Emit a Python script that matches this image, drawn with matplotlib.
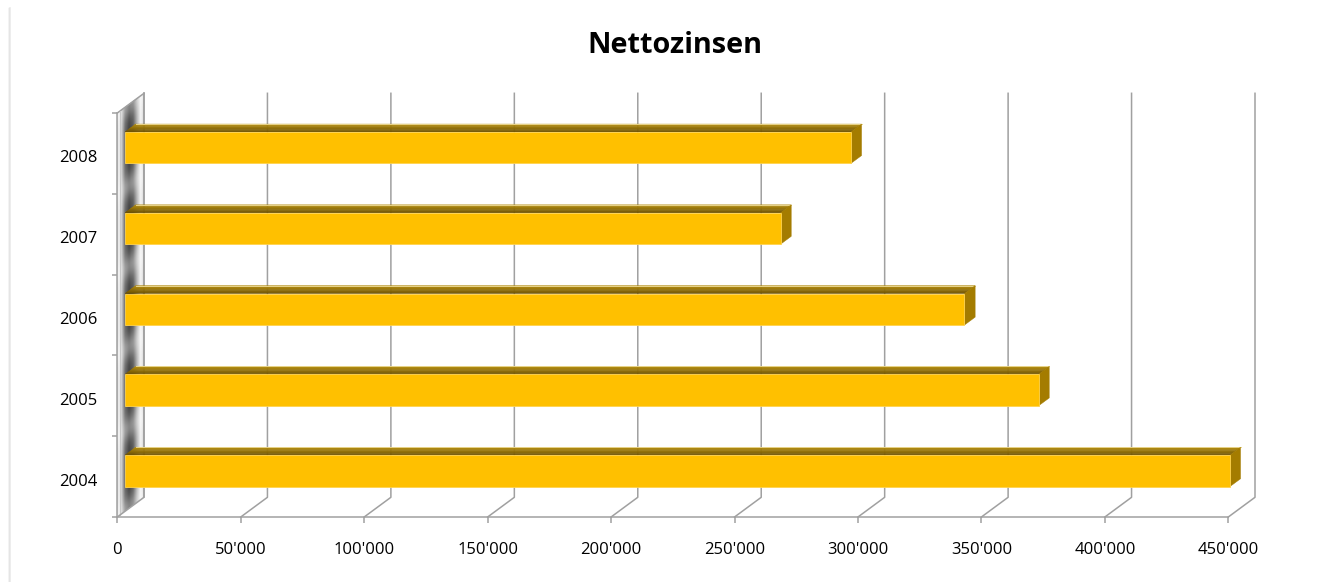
import numpy as np
import matplotlib.pyplot as plt
from matplotlib.patches import Polygon, Rectangle
from matplotlib.lines import Line2D
from matplotlib.ticker import FixedLocator, FuncFormatter
from matplotlib.transforms import Affine2D, ScaledTranslation

plt.rcParams['font.family'] = ['Open Sans', 'DejaVu Sans']

# Nettozinsen pro Jahr
years = ['2004', '2005', '2006', '2007', '2008']
values = [447500, 370000, 340000, 265500, 294000]
x_ticks = [0, 50000, 100000, 150000, 200000, 250000, 300000, 350000, 400000, 450000]
title = 'Nettozinsen'

# oblique "3D" depth: one unit of depth shifts a point by DV (value units) and DC (category units)
XMAX = 450000
DV = 10814
DC = 0.2438
D0, D1 = 0.29, 0.69          # front / back depth of the bars
BAR_LO, BAR_HI = 0.305, 0.695

GRID = '#a0a0a0'
FRONT = '#ffc000'
SIDE = '#a47c00'
TOP_FRONT = np.array([0x6a, 0x4f, 0x00]) / 255
TOP_BACK = np.array([0xb4, 0x8c, 0x0c]) / 255


def fmt(v, pos=None):
    return f"{int(v):,}".replace(",", "'")


fig = plt.figure(figsize=(13.31, 5.82), dpi=100)
ax = fig.add_axes([0.08813, 0.11168, 0.83471, 0.69416])

# chart border on the left
fig.add_artist(Line2D([8.5 / 1331] * 2, [0, 1 - 8 / 582], color='#c4c4c4', lw=1.0))
fig.add_artist(Line2D([10 / 1331] * 2, [0, 1 - 8 / 582], color='#ececec', lw=1.2))

fig.text(0.5071, 1 - 53 / 582, title, ha='center', va='baseline',
         fontsize=20.8, fontweight='bold')

# left wall: shaded metallic panel, sheared into depth
nu, nc = 80, 400
u = np.linspace(0, 1, nu)
c = np.linspace(0, len(years), nc)
prof = np.interp(u, [0, 0.06, 0.15, 0.3, 0.45, 0.6, 0.75, 0.88, 1.0],
                 [0.78, 0.95, 0.85, 0.42, 0.26, 0.36, 0.72, 0.96, 0.84])
dist = np.abs(c - np.round(c))
mod = 0.35 * np.exp(-(dist / 0.16) ** 2)
wall = np.clip(prof[None, :] + mod[:, None] * (1 - prof[None, :]), 0, 1)
shear = Affine2D(np.array([[DV, 0, 0], [DC, 1, 0], [0, 0, 1]]))
ax.imshow(wall, cmap='gray', vmin=0, vmax=1, origin='lower', extent=(0, 1, 0, len(years)),
          aspect='auto', interpolation='bilinear', transform=shear + ax.transData,
          clip_on=False, zorder=0)
ax.set_xlim(0, XMAX)
ax.set_ylim(0, len(years))

# wall edges
ax.plot([DV, DV], [DC, len(years) + DC], color=GRID, lw=1.1, clip_on=False, zorder=1)
ax.plot([0, DV], [len(years), len(years) + DC], color=GRID, lw=1.1, clip_on=False, zorder=1)
ax.plot([0.09 * DV, 0.09 * DV], [0.09 * DC, len(years) + 0.09 * DC], color='#c8c8c8',
        lw=0.8, clip_on=False, zorder=1)

# floor diagonals and back-wall gridlines
for v in x_ticks:
    ax.plot([v, v + DV, v + DV], [0, DC, len(years) + DC], color=GRID, lw=1.1,
            clip_on=False, zorder=1)

# bars
n_strips = 10
for i, v in enumerate(values):
    lo, hi = i + BAR_LO, i + BAR_HI
    # top face with a dark-to-light gradient going back
    for k in range(n_strips):
        da = D0 + (D1 - D0) * k / n_strips
        db = D0 + (D1 - D0) * (k + 1) / n_strips
        col = TOP_FRONT + (TOP_BACK - TOP_FRONT) * (k + 0.5) / n_strips
        ax.add_patch(Polygon([(da * DV, hi + da * DC), (v + da * DV, hi + da * DC),
                              (v + db * DV, hi + db * DC), (db * DV, hi + db * DC)],
                             closed=True, facecolor=col, edgecolor=col, lw=0.3,
                             clip_on=False, zorder=3))
    ax.plot([D1 * DV, v + D1 * DV], [hi + D1 * DC] * 2, color='#e8d48a', lw=0.7,
            clip_on=False, zorder=3)
    # right side
    ax.add_patch(Polygon([(v + D0 * DV, lo + D0 * DC), (v + D1 * DV, lo + D1 * DC),
                          (v + D1 * DV, hi + D1 * DC), (v + D0 * DV, hi + D0 * DC)],
                         closed=True, facecolor=SIDE, edgecolor=SIDE, lw=0.3,
                         clip_on=False, zorder=3))
    # front face
    ax.add_patch(Rectangle((D0 * DV, lo + D0 * DC), v, hi - lo, facecolor=FRONT,
                           edgecolor='#ffd34f', lw=0.6, clip_on=False, zorder=4))

# axes: front floor edge and front wall edge
for s in ('top', 'right'):
    ax.spines[s].set_visible(False)
for s in ('bottom', 'left'):
    ax.spines[s].set_color(GRID)
    ax.spines[s].set_linewidth(1.1)
ax.set_facecolor('none')

ax.xaxis.set_major_locator(FixedLocator(x_ticks))
ax.xaxis.set_major_formatter(FuncFormatter(fmt))
ax.tick_params(axis='x', direction='out', length=4.3, width=1.1, color=GRID,
               labelsize=12, pad=14)

ax.set_yticks(np.arange(len(years)) + 0.5)
ax.set_yticklabels(years)
ax.set_yticks(np.arange(len(years) + 1), minor=True)
ax.tick_params(axis='y', which='major', length=0, labelsize=12, pad=14)
ax.tick_params(axis='y', which='minor', direction='out', length=3.6, width=1.1, color=GRID)
shift = ScaledTranslation(0, -0.03, fig.dpi_scale_trans)
for lab in ax.get_yticklabels():
    lab.set_transform(lab.get_transform() + shift)

fig.savefig('out.png', dpi=100, facecolor='white')
